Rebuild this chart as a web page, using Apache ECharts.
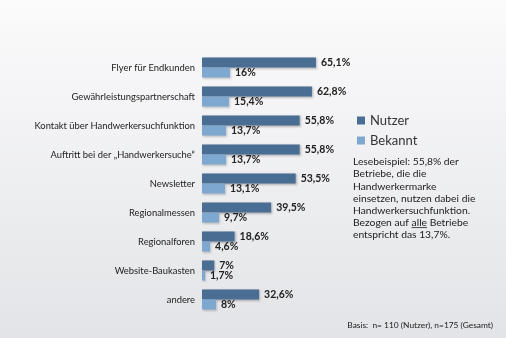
<!DOCTYPE html>
<html><head><meta charset="utf-8">
<script src="https://cdn.jsdelivr.net/npm/echarts@6/dist/echarts.min.js"></script>
<style>html,body{margin:0;padding:0;}#c{width:506px;height:338px;}</style>
</head><body><div id="c"></div>
<script>
const categories = ["Flyer für Endkunden","Gewährleistungspartnerschaft","Kontakt über Handwerkersuchfunktion","Auftritt bei der „Handwerkersuche“","Newsletter","Regionalmessen","Regionalforen","Website-Baukasten","andere"];
const nutzer = [65.1, 62.8, 55.8, 55.8, 53.5, 39.5, 18.6, 7, 32.6];
const bekannt = [16, 15.4, 13.7, 13.7, 13.1, 9.7, 4.6, 1.7, 8];
const seriesNames = ["Nutzer","Bekannt"];
const noteLines = ["Lesebeispiel: 55,8% der","Betriebe, die die","Handwerkermarke","einsetzen, nutzen dabei die","Handwerkersuchfunktion.","Bezogen auf alle Betriebe","entspricht das 13,7%."];
const basisText = "Basis:  n= 110 (Nutzer), n=175 (Gesamt)";

const FONT = "Lato";
const NOTE_SIZE = 10.3, NOTE_LH = 12.1, NOTE_LEFT = 353, NOTE_TOP = 156;
const fmt = p => String(p.value).replace('.', ',') + '%';
// measure underline position for "alle"
const cv = document.createElement('canvas').getContext('2d');
cv.font = NOTE_SIZE + 'px ' + FONT;
const ulX0 = NOTE_LEFT + cv.measureText('Bezogen auf ').width;
const ulX1 = ulX0 + cv.measureText('alle').width;
const ulY = NOTE_TOP + NOTE_LH * 5.5 + 5;

const chart = echarts.init(document.getElementById('c'));
chart.setOption({
  backgroundColor: new echarts.graphic.LinearGradient(0,0,0,1,[{offset:0,color:'#fbfbfc'},{offset:1,color:'#e3e4e7'}]),
  textStyle: {fontFamily: FONT},
  animation: false,
  grid: {left: 202, top: 53, width: 175, height: 261},
  xAxis: {type:'value', min:0, max:100, show:false},
  yAxis: {type:'category', data: categories, inverse:true,
    axisLine:{show:false}, axisTick:{show:false},
    axisLabel:{color:'#222', fontSize:9.4, margin:7, fontFamily:FONT}},
  legend: {orient:'vertical', left:352, top:109, itemWidth:8, itemHeight:8, itemGap:7, icon:'rect',
    textStyle:{fontSize:13, color:'#333', fontFamily:FONT}, data: seriesNames},
  series: [
    {name: seriesNames[0], type:'bar', data: nutzer, barGap:'0%', barCategoryGap:'31%',
     itemStyle:{color:'#4a6d93', shadowColor:'rgba(0,0,0,0.25)', shadowBlur:2, shadowOffsetX:1, shadowOffsetY:1},
     label:{show:true, position:'right', distance:5, formatter:fmt, color:'#222', fontWeight:'bold', fontSize:10.5, fontFamily:FONT}},
    {name: seriesNames[1], type:'bar', data: bekannt,
     itemStyle:{color:'#7ea8d0', shadowColor:'rgba(0,0,0,0.2)', shadowBlur:2, shadowOffsetX:1, shadowOffsetY:1},
     label:{show:true, position:'right', distance:5, formatter:fmt, color:'#222', fontWeight:'bold', fontSize:10.5, fontFamily:FONT}}
  ],
  graphic: [
    {type:'text', left:NOTE_LEFT, top:NOTE_TOP, style:{text: noteLines.join('\n'), fontSize:NOTE_SIZE, lineHeight:NOTE_LH, fill:'#222', fontFamily:FONT}},
    {type:'line', shape:{x1:ulX0, y1:ulY, x2:ulX1, y2:ulY}, style:{stroke:'#222', lineWidth:0.8}},
    {type:'text', right:13, top:321, style:{text: basisText, fontSize:8.4, fill:'#222', fontFamily:FONT}}
  ]
});
</script></body></html>
